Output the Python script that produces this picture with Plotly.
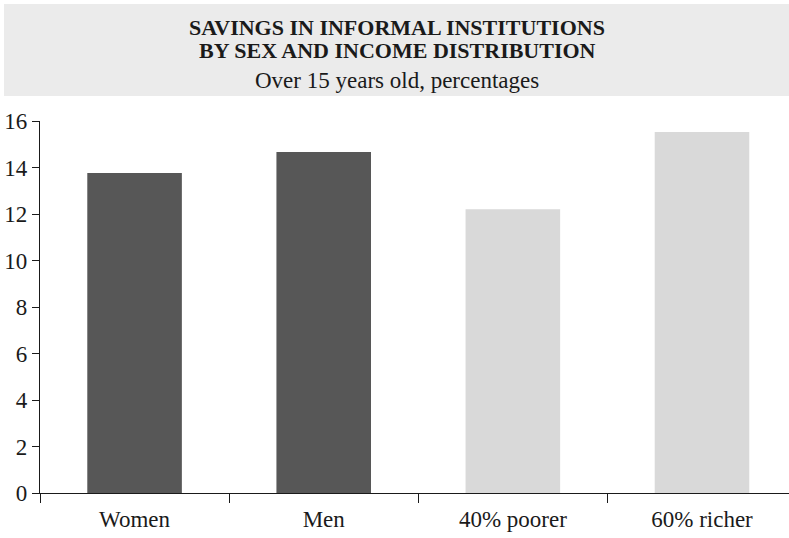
import plotly.graph_objects as go

categories = ["Women", "Men", "40% poorer", "60% richer"]
values = [13.76, 14.67, 12.2, 15.53]
colors = ["#575757", "#575757", "#d9d9d9", "#d9d9d9"]
y_ticks = [0, 2, 4, 6, 8, 10, 12, 14, 16]

title_l1 = "SAVINGS IN INFORMAL INSTITUTIONS"
title_l2 = "BY SEX AND INCOME DISTRIBUTION"
subtitle = "Over 15 years old, percentages"

W, H = 789, 538
L, R, T, B = 40, 0, 121, 45
ph = H - T - B
pw = W - L - R

def py(y):
    return (H - B - y) / ph

def px(x):
    return (x - L) / pw

fig = go.Figure(go.Bar(
    x=categories, y=values, marker=dict(color=colors, line=dict(width=0)),
    width=0.5, showlegend=False, hoverinfo="skip"))

font = "Liberation Serif, Times New Roman, serif"
tc = "#1a1a1a"

fig.update_layout(
    width=W, height=H,
    margin=dict(l=L, r=R, t=T, b=B, pad=0),
    paper_bgcolor="white", plot_bgcolor="white",
    font=dict(family=font, color=tc, size=22),
    shapes=[dict(type="rect", xref="paper", yref="paper",
                 x0=px(4), x1=px(789), y0=py(96), y1=py(4),
                 fillcolor="#ebebeb", line=dict(width=0), layer="below")],
    annotations=[
        dict(text="<b>" + title_l1 + "</b>", xref="paper", yref="paper",
             x=px(397), y=py(27), showarrow=False, xanchor="center", yanchor="middle",
             font=dict(size=22, family=font, color=tc)),
        dict(text="<b>" + title_l2 + "</b>", xref="paper", yref="paper",
             x=px(397), y=py(51), showarrow=False, xanchor="center", yanchor="middle",
             font=dict(size=22, family=font, color=tc)),
        dict(text=subtitle, xref="paper", yref="paper",
             x=px(397), y=py(80), showarrow=False, xanchor="center", yanchor="middle",
             font=dict(size=23, family=font, color=tc)),
    ],
)

fig.update_xaxes(
    type="category", range=[-0.5, 3.46],
    showline=True, linecolor=tc, linewidth=1.3,
    ticks="outside", tickson="boundaries", ticklen=9, tickcolor=tc,
    ticklabelstandoff=5,
    showgrid=False, zeroline=False, fixedrange=True,
    tickfont=dict(size=23, family=font, color=tc),
)
fig.update_yaxes(
    range=[0, 16], tickvals=y_ticks,
    showline=True, linecolor=tc, linewidth=1.3,
    ticks="outside", ticklen=7, tickcolor=tc,
    showgrid=False, zeroline=False, fixedrange=True,
    tickfont=dict(size=23, family=font, color=tc),
)

fig.write_html("out.html", config={"displayModeBar": False})
